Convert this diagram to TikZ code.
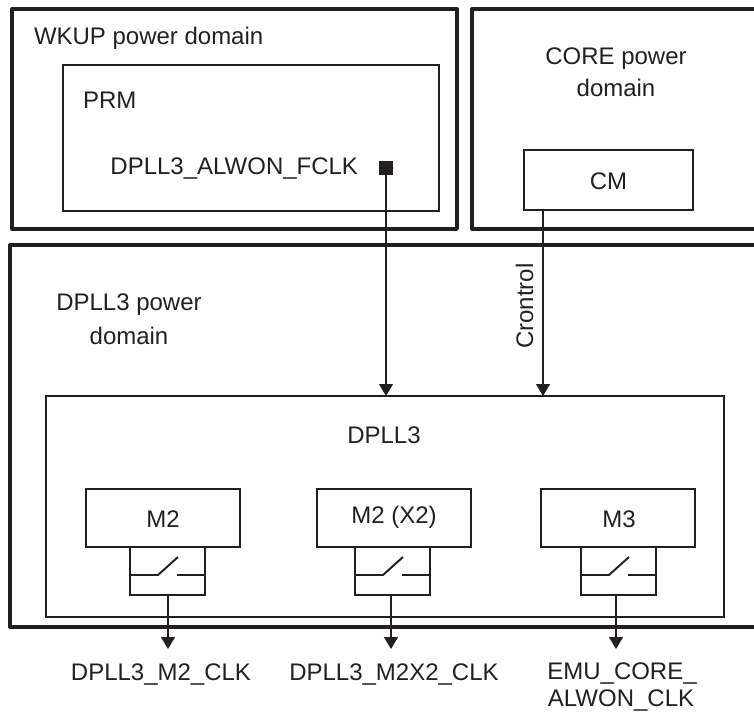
\documentclass[tikz,border=0pt]{standalone}
\usepackage{fontspec}
\setmainfont{Liberation Sans}
\usepackage{tikz}
\usetikzlibrary{positioning,arrows.meta,calc}
\definecolor{inkline}{HTML}{231F20}
\tikzset{
  domainline/.style={draw=inkline,line width=1.9pt,line join=round},
  boxnode/.style={draw=inkline,line width=1.1pt,inner sep=0pt,outer sep=0pt},
  switchline/.style={draw=inkline,line width=1.1pt},
  signal/.style={draw=inkline,line width=0.7pt,-{Triangle[length=0.24cm,width=0.28cm]}},
  lbl/.style={text=inkline,inner sep=0pt,outer sep=0pt,anchor=base}
}
\begin{document}
\begin{tikzpicture}[font=\fontsize{13.65}{15}\selectfont]
\useasboundingbox (0,0) rectangle (15.08,14.22);
% power domains
\node[boxnode,domainline,minimum width=8.90cm,minimum height=4.40cm] (wkup) at (4.69,11.84) {};
\draw[domainline] (15.08,14.04) -- (9.44,14.04) -- (9.44,9.64) -- (15.08,9.64);
\draw[domainline] (15.08,9.32) -- (0.20,9.32) -- (0.20,1.68) -- (15.08,1.68);
\node[lbl,anchor=base west] (wkuplbl) at (0.68,13.32) {WKUP power domain};
\node[lbl] (corelbl) at (12.32,12.92) {CORE power};
\node[lbl] (corelblb) at (12.32,12.28) {domain};
\node[lbl] (dplllbl) at (2.58,8.02) {DPLL3 power};
\node[lbl] (dplllblb) at (2.58,7.34) {domain};
% inner blocks
\node[boxnode,minimum width=7.52cm,minimum height=2.92cm] (prm) at (5.02,11.46) {};
\node[lbl,anchor=base west] (prmlbl) at (1.66,12.06) {PRM};
\node[lbl,anchor=base east] (fclk) at (7.16,10.74) {DPLL3\_ALWON\_FCLK};
\node[fill=inkline,minimum size=0.28cm,inner sep=0pt,outer sep=0pt] (clksq) at (7.72,10.86) {};
\node[boxnode,minimum width=3.38cm,minimum height=1.20cm] (cm) at (12.17,10.62) {};
\node[lbl] at (12.17,10.44) (cmlbl) {CM};
\node[boxnode,minimum width=13.56cm,minimum height=4.42cm] (dpll) at (7.70,4.09) {};
\node[lbl] (dpllname) at (7.68,5.36) {DPLL3};
% dividers
\node[boxnode,minimum width=3.08cm,minimum height=1.16cm] (m2) at (3.26,3.86) {};
\node[boxnode,minimum width=3.08cm,minimum height=1.16cm] (m2x) at (7.88,3.86) {};
\node[boxnode,minimum width=3.08cm,minimum height=1.16cm] (m3) at (12.36,3.86) {};
\node[lbl] (m2lbl) at (3.26,3.68) {M2};
\node[lbl] (m2xlbl) at (7.88,3.76) {M2 (X2)};
\node[lbl] (m3lbl) at (12.38,3.68) {M3};
% switches
\node[boxnode,minimum width=1.50cm,minimum height=0.96cm] (swa) at (3.35,2.80) {};
\node[boxnode,minimum width=1.50cm,minimum height=0.96cm] (swb) at (7.85,2.80) {};
\node[boxnode,minimum width=1.50cm,minimum height=0.96cm] (swc) at (12.37,2.80) {};
\draw[switchline] ($(swa.west)+(0,-0.08)$) -- ++(0.56,0) -- ++(0.40,0.36);
\draw[switchline] ($(swa.east)+(0,-0.08)$) -- ++(-0.56,0);
\draw[switchline] ($(swb.west)+(0,-0.08)$) -- ++(0.56,0) -- ++(0.40,0.36);
\draw[switchline] ($(swb.east)+(0,-0.08)$) -- ++(-0.56,0);
\draw[switchline] ($(swc.west)+(0,-0.08)$) -- ++(0.56,0) -- ++(0.40,0.36);
\draw[switchline] ($(swc.east)+(0,-0.08)$) -- ++(-0.56,0);
% outputs
\coordinate (outa) at (3.36,1.24);
\coordinate (outb) at (7.82,1.24);
\coordinate (outc) at (12.32,1.24);
\node[lbl] (clka) at (3.22,0.62) {DPLL3\_M2\_CLK};
\node[lbl] (clkb) at (7.88,0.62) {DPLL3\_M2X2\_CLK};
\node[lbl] (clkc) at (12.44,0.64) {EMU\_CORE\_};
\node[lbl] (clkd) at (12.42,0.10) {ALWON\_CLK};
\draw[signal] (swa.south -| outa) -- (outa);
\draw[signal] (swb.south -| outb) -- (outb);
\draw[signal] (swc.south -| outc) -- (outc);
% inputs to the DPLL
\coordinate (ctrlin) at (10.86,6.30);
\draw[signal] (clksq.south) -- (clksq.south |- dpll.north);
\draw[signal] (cm.south -| ctrlin) -- (ctrlin);
\node[lbl,rotate=90] (ctrllbl) at (10.66,8.10) {Crontrol};
\end{tikzpicture}
\end{document}
